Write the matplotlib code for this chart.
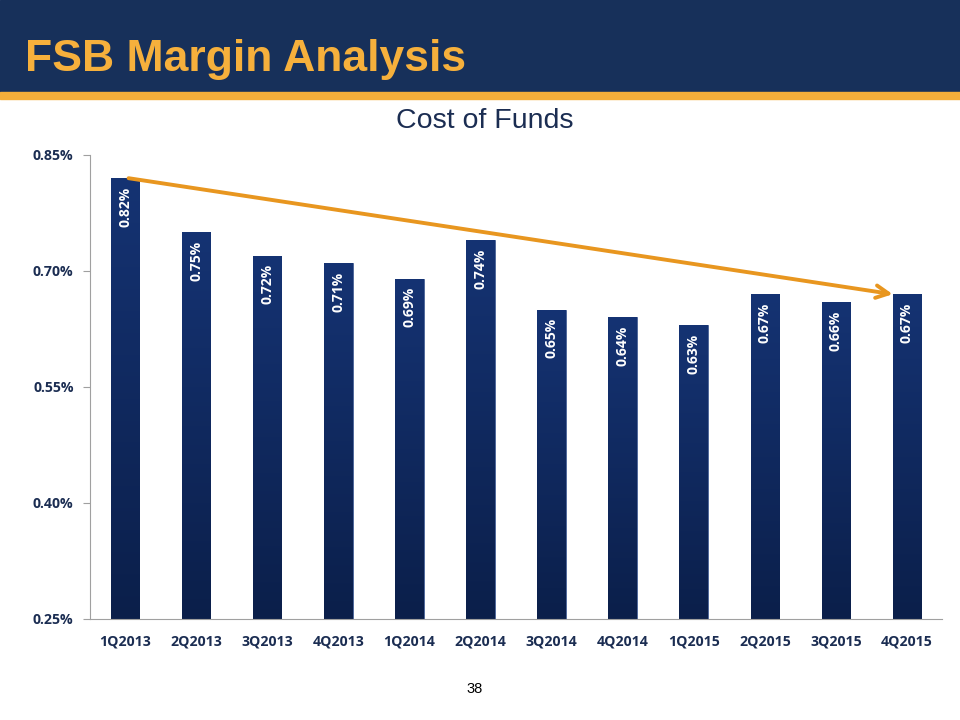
import matplotlib
matplotlib.use("Agg")
import matplotlib.pyplot as plt
from matplotlib.patches import Rectangle
from matplotlib.colors import LinearSegmentedColormap
import numpy as np

categories = ["1Q2013", "2Q2013", "3Q2013", "4Q2013", "1Q2014", "2Q2014",
              "3Q2014", "4Q2014", "1Q2015", "2Q2015", "3Q2015", "4Q2015"]
values = [0.82, 0.75, 0.72, 0.71, 0.69, 0.74, 0.65, 0.64, 0.63, 0.67, 0.66, 0.67]
yticks = [0.25, 0.40, 0.55, 0.70, 0.85]

navy = "#10295a"
text_navy = "#1b2d52"
orange = "#e8961f"

fig = plt.figure(figsize=(9.6, 7.2), dpi=100)

# header band
fig.patches.append(Rectangle((0, 1 - 92/720), 1, 92/720, transform=fig.transFigure,
                             color="#17305a", zorder=0))
fig.patches.append(Rectangle((0, 1 - 99/720), 1, 7/720, transform=fig.transFigure,
                             color="#f5ae3a", zorder=0))
fig.text(25/960, 1 - 59/720, "FSB Margin Analysis", color="#f6b03c", fontsize=32,
         fontweight="bold", family="Liberation Sans", va="center", ha="left")
fig.text(485/960, 1 - 121/720, "Cost of Funds", color=text_navy, fontsize=20.5,
         family="Liberation Sans", va="center", ha="center")
fig.text(475/960, 1 - 689/720, "38", color="black", fontsize=10.5,
         family="Liberation Sans", va="center", ha="center")

ax = fig.add_axes([89.5/960, 101/720, 853/960, 464/720])
x = np.arange(len(categories))
bars = ax.bar(x, values, width=0.40, color=navy, edgecolor="#4a6499", linewidth=0.6, zorder=2)

# subtle vertical gradient shading on bars
grad = np.linspace(0, 1, 256).reshape(-1, 1)
cmap = LinearSegmentedColormap.from_list("b", ["#0b1f4a", "#153373"])
for b in bars:
    bx, by, bw, bh = b.get_x(), b.get_y(), b.get_width(), b.get_height()
    im = ax.imshow(grad, extent=[bx, bx + bw, 0.25, by + bh], origin="lower",
                   cmap=cmap, aspect="auto", zorder=2.1)
    im.set_clip_path(b)

for xi, v in zip(x, values):
    ax.annotate(f"{v:.2f}%", (xi, v), xytext=(0, -6), textcoords="offset points",
                rotation=90, ha="center", va="top", color="white",
                fontsize=10, fontweight="bold", family="Open Sans", zorder=4)

ax.set_xlim(-0.5, len(categories) - 0.5)
ax.set_ylim(yticks[0], yticks[-1])
ax.set_yticks(yticks)
ax.set_yticklabels([f"{t:.2f}%" for t in yticks])
ax.set_xticks(x)
ax.set_xticklabels(categories)
for lab in ax.get_xticklabels() + ax.get_yticklabels():
    lab.set_family("Open Sans")
    lab.set_fontweight("bold")
    lab.set_fontsize(10.2)
    lab.set_color(text_navy)
ax.tick_params(axis="x", length=0, pad=11)
ax.tick_params(axis="y", length=5, color="#a0a0a0", pad=6.5)
for s in ["top", "right"]:
    ax.spines[s].set_visible(False)
ax.spines["left"].set_color("#a0a0a0")
ax.spines["bottom"].set_color("#a0a0a0")

# trend arrow from first to last bar top
ax.annotate("", xy=(len(values) - 1 - 0.2, values[-1]), xytext=(0.05, values[0]),
            arrowprops=dict(arrowstyle="->,head_length=0.9,head_width=0.45", color=orange, lw=2.8,
                            shrinkA=0, shrinkB=0), zorder=5)

fig.savefig("out.png", dpi=100)
